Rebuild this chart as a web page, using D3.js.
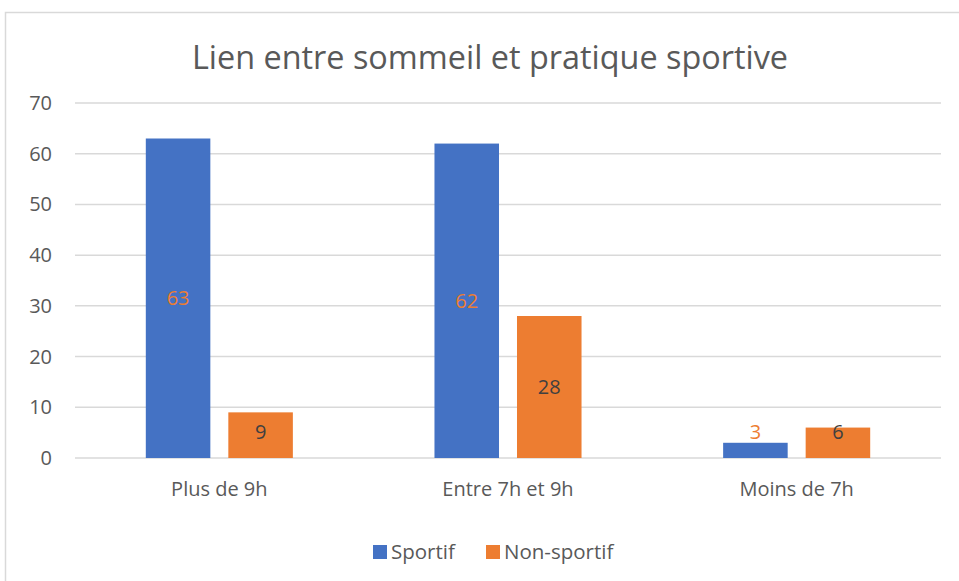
<!DOCTYPE html>
<html>
<head>
<meta charset="utf-8">
<script src="https://cdn.jsdelivr.net/npm/d3@7"></script>
<style>
  body { margin: 0; background: #fff; }
  text { font-family: "Open Sans", sans-serif; }
</style>
</head>
<body>
<svg id="chart" width="959" height="581"></svg>
<script>
const categories = ['Plus de 9h', 'Entre 7h et 9h', 'Moins de 7h'];
const seriesNames = ['Sportif', 'Non-sportif'];
const sportif = [63, 62, 3];
const nonSportif = [9, 28, 6];
const yTicks = [0, 10, 20, 30, 40, 50, 60, 70];

const colors = ['#4472C4', '#ED7D31'];
const labelColors = ['#ED7D31', '#404040'];

const W = 959, H = 581;
const m = {l: 75, r: 18, t: 103, b: 123};

const svg = d3.select('#chart');

// outer chart frame
svg.append('rect')
	.attr('x', 5.5).attr('y', 12.5)
	.attr('width', W).attr('height', H)
	.style('fill', 'none')
	.style('stroke', '#D9D9D9')
	.style('stroke-width', 1.5);

svg.append('text')
	.attr('x', 490).attr('y', 69)
	.attr('text-anchor', 'middle')
	.style('font-size', '32.4px')
	.style('fill', '#595959')
	.text('Lien entre sommeil et pratique sportive');

const x0 = d3.scaleBand()
	.domain(categories)
	.range([m.l, W - m.r]);

const x1 = d3.scaleBand()
	.domain(seriesNames)
	.range([0, x0.bandwidth()])
	.paddingInner(0.218)
	.paddingOuter(0.858);

const y = d3.scaleLinear()
	.domain([0, 70])
	.range([H - m.b, m.t]);

// gridlines
svg.append('g')
	.selectAll('line')
	.data(yTicks).enter()
	.append('line')
	.attr('x1', m.l).attr('x2', W - m.r)
	.attr('y1', d => y(d)).attr('y2', d => y(d))
	.style('stroke', '#D9D9D9')
	.style('stroke-width', 1.5);

// y tick labels
svg.append('g')
	.selectAll('text')
	.data(yTicks).enter()
	.append('text')
	.attr('x', 52).attr('y', d => y(d))
	.attr('dy', '0.35em')
	.attr('text-anchor', 'end')
	.style('font-size', '20px')
	.style('fill', '#595959')
	.text(d => d);

const rows = categories.map((c, i) => ({cat: c, values: [sportif[i], nonSportif[i]]}));

const gCats = svg.append('g')
	.selectAll('.g_cat')
	.data(rows).enter()
	.append('g')
	.attr('class', 'g_cat')
	.attr('transform', d => 'translate(' + x0(d.cat) + ',0)');

gCats.selectAll('rect')
	.data(d => d.values.map((v, j) => ({s: seriesNames[j], v: v, j: j}))).enter()
	.append('rect')
	.attr('x', d => x1(d.s))
	.attr('y', d => y(d.v))
	.attr('width', x1.bandwidth())
	.attr('height', d => y(0) - y(d.v))
	.style('fill', d => colors[d.j]);

gCats.selectAll('.bar_label')
	.data(d => d.values.map((v, j) => ({s: seriesNames[j], v: v, j: j}))).enter()
	.append('text')
	.attr('class', 'bar_label')
	.attr('x', d => x1(d.s) + x1.bandwidth() / 2)
	.attr('y', d => Math.min(y(d.v / 2), y(0) - 26))
	.attr('dy', '0.35em')
	.attr('text-anchor', 'middle')
	.style('font-size', '20px')
	.style('fill', d => labelColors[d.j])
	.text(d => d.v);

// category labels
svg.append('g')
	.selectAll('text')
	.data(categories).enter()
	.append('text')
	.attr('x', d => x0(d) + x0.bandwidth() / 2)
	.attr('y', 489)
	.attr('dy', '0.35em')
	.attr('text-anchor', 'middle')
	.style('font-size', '20px')
	.style('fill', '#595959')
	.text(d => d);

// legend
const legend = svg.append('g')
	.selectAll('.legend_item')
	.data(seriesNames).enter()
	.append('g')
	.attr('class', 'legend_item')
	.attr('transform', (d, i) => 'translate(' + [373, 486][i] + ',545)');

legend.append('rect')
	.attr('width', 14).attr('height', 14)
	.style('fill', (d, i) => colors[i]);

legend.append('text')
	.attr('x', 18).attr('y', 7)
	.attr('dy', '0.35em')
	.style('font-size', '20.5px')
	.style('fill', '#595959')
	.text(d => d);
</script>
</body>
</html>
